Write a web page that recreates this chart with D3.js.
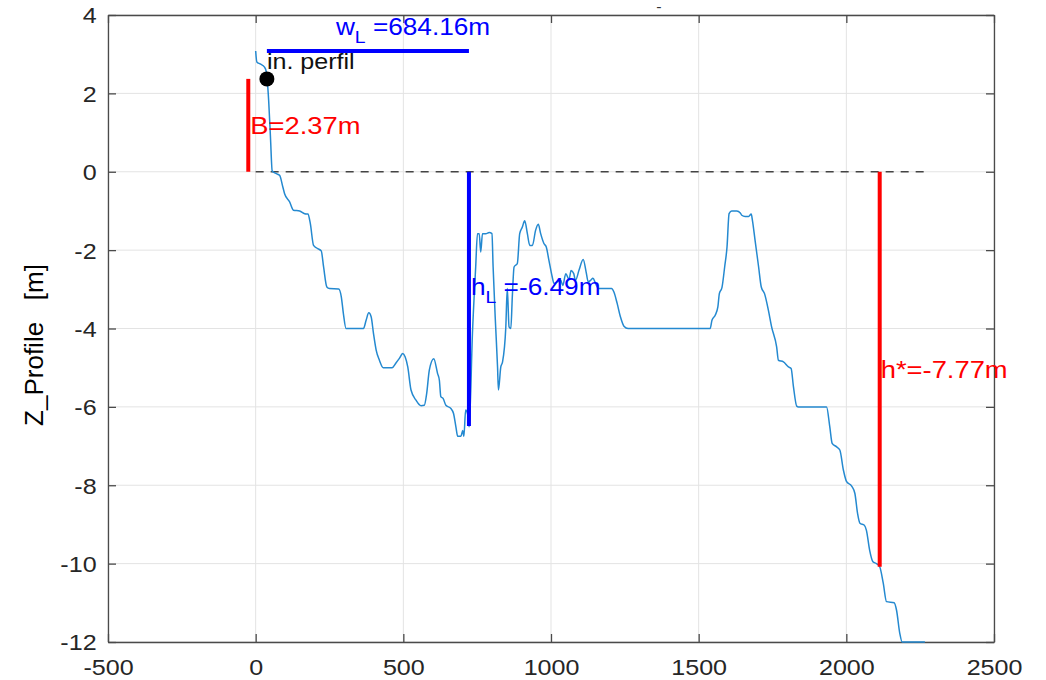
<!DOCTYPE html>
<html>
<head>
<meta charset="utf-8">
<script src="https://cdn.jsdelivr.net/npm/d3@7"></script>
<style>
  body { margin: 0; background: #fff; }
  text { font-family: "Liberation Sans", Arial, Helvetica, sans-serif; }
</style>
</head>
<body>
<div id="container"></div>
<script>
/* CONSTANTS AND GLOBALS */
const width = 1046,
  height = 680,
  margin = { top: 15, right: 52, bottom: 38, left: 108 };

const textStretch = 1.14; // the reference picture is a bit wider than tall

// axis ticks
const xTicks = [-500, 0, 500, 1000, 1500, 2000, 2500];
const yTicks = [-12, -10, -8, -6, -4, -2, 0, 2, 4];

// bed profile: distance along profile [m] and elevation [m]
const profileX = [0, 4, 15, 30, 36, 44, 50, 56, 70, 81, 92, 98, 115, 128, 149, 166, 177, 185, 196, 210,
  222, 230, 241, 250, 281, 290, 297, 306, 365, 374, 383, 391, 399, 408, 419, 432, 462, 475, 486, 498,
  506, 515, 526, 543, 560, 571, 579, 588, 603, 616, 622, 627, 635, 644, 661, 670, 678, 684, 695, 701,
  705, 711, 718, 723, 734, 745, 751, 757, 762, 768, 779, 791, 800, 804, 811, 819, 822, 830, 836, 847,
  852, 858, 864, 869, 875, 886, 894, 903, 911, 920, 928, 937, 948, 957, 965, 976, 984, 993, 1004, 1010,
  1021, 1033, 1040, 1050, 1061, 1068, 1077, 1083, 1095, 1109, 1119, 1126, 1134, 1142, 1151, 1160, 1205, 1213, 1224, 1235,
  1247, 1261, 1539, 1545, 1556, 1565, 1570, 1579, 1588, 1596, 1603, 1612, 1629, 1641, 1646, 1657, 1669, 1678, 1682, 1691,
  1703, 1712, 1723, 1736, 1747, 1764, 1770, 1787, 1804, 1813, 1821, 1832, 1838, 1933, 1944, 1952, 1967, 1978, 1990, 2001,
  2018, 2029, 2038, 2046, 2061, 2068, 2079, 2090, 2102, 2113, 2125, 2136, 2162, 2170, 2181, 2189, 2266];
const profileZ = [3.08, 2.8, 2.75, 2.67, 2.55, 1.82, 0.9, 0.02, -0.05, -0.09, -0.39, -0.56, -0.77, -0.98, -1.0, -1.07, -1.08, -1.32, -1.88, -1.96,
  -2.02, -2.43, -2.94, -2.98, -2.99, -3.19, -3.62, -4.0, -4.0, -3.79, -3.6, -3.7, -4.13, -4.55, -4.81, -5.0, -5.0, -4.88, -4.77, -4.64,
  -4.72, -4.98, -5.57, -5.83, -5.97, -5.96, -5.66, -5.06, -4.77, -5.15, -5.32, -5.74, -5.79, -5.96, -6.04, -6.17, -6.51, -6.75, -6.75, -6.6,
  -6.75, -6.08, -6.2, -6.51, -4.13, -2.43, -1.58, -1.58, -2.05, -1.58, -1.58, -1.55, -1.58, -2.43, -3.7, -4.98, -5.57, -4.98, -4.85, -3.96,
  -2.98, -3.96, -4.0, -3.19, -2.43, -2.34, -1.58, -1.41, -1.25, -1.58, -1.88, -1.88, -1.49, -1.34, -1.58, -1.83, -1.92, -2.26, -2.68, -2.85,
  -2.81, -2.77, -2.9, -2.6, -2.75, -2.52, -2.6, -2.77, -2.51, -2.24, -2.56, -2.81, -2.77, -2.72, -2.85, -2.98, -2.98, -3.07, -3.36, -3.7,
  -3.94, -4.0, -4.0, -3.79, -3.66, -3.45, -3.11, -2.95, -2.43, -1.92, -1.07, -1.0, -1.0, -1.05, -1.11, -1.14, -1.14, -1.08, -1.24, -1.75,
  -2.43, -2.94, -3.11, -3.53, -3.96, -4.47, -4.81, -4.85, -4.98, -5.02, -5.49, -5.98, -6.0, -6.0, -6.51, -6.93, -7.02, -7.1, -7.61, -7.91,
  -8.02, -8.21, -8.72, -8.97, -9.02, -9.15, -9.66, -9.95, -10.0, -10.08, -10.5, -10.97, -11.0, -11.19, -11.78, -12.0, -12.0];

// annotation values
const seaLevel = [0, 2270];   // dashed z = 0 line, from/to distance
const profileStart = 38;      // "in. perfil" point
const crestX = -25;           // where B is drawn
const B = 2.37;               // berm height
const wL = 684.16;            // width of the lagoon
const wLineZ = 3.08;          // height the width bar is drawn at
const hL = -6.49;             // lagoon depth
const hStarX = 2113;          // closure depth position
const hStarLineEnd = -10.08;  // bottom of the closure depth bar
const hStar = -7.77;

const blue = "#0000ff", red = "#ff0000", profileColor = "#2489d0";

const data = profileX.map((x, i) => ({ x: x, z: profileZ[i] }));

/* SCALES */
const xScale = d3.scaleLinear()
  .domain([-500, 2500])
  .range([margin.left, width - margin.right]);

const yScale = d3.scaleLinear()
  .domain([-12, 4])
  .range([height - margin.bottom, margin.top]);

const svg = d3.select("#container")
  .append("svg")
  .attr("width", width)
  .attr("height", height);

// helper: text squeezed out horizontally like the reference
function addText(x, y, anchor, size, color) {
  return svg.append("text")
    .attr("transform", `translate(${x},${y}) scale(${textStretch},1)`)
    .attr("text-anchor", anchor)
    .attr("font-size", size)
    .attr("fill", color);
}

/* GRID */
svg.append("g").selectAll("line")
  .data(xTicks)
  .join("line")
  .attr("x1", d => xScale(d)).attr("x2", d => xScale(d))
  .attr("y1", yScale(-12)).attr("y2", yScale(4))
  .attr("stroke", "#e3e3e3").attr("stroke-width", 1);

svg.append("g").selectAll("line")
  .data(yTicks)
  .join("line")
  .attr("x1", xScale(-500)).attr("x2", xScale(2500))
  .attr("y1", d => yScale(d)).attr("y2", d => yScale(d))
  .attr("stroke", "#e3e3e3").attr("stroke-width", 1);

/* AXES (box with inward ticks) */
const axisColor = "#4a4a4a";

const xAxisGroup = svg.append("g")
  .attr("transform", `translate(0, ${yScale(-12)})`)
  .call(d3.axisBottom(xScale).tickValues(xTicks).tickSize(-8).tickSizeOuter(0)
    .tickPadding(17).tickFormat(d => String(d)));

const yAxisGroup = svg.append("g")
  .attr("transform", `translate(${xScale(-500)}, 0)`)
  .call(d3.axisLeft(yScale).tickValues(yTicks).tickSize(-8).tickSizeOuter(0)
    .tickPadding(10).tickFormat(d => String(d)));

svg.append("g")
  .attr("transform", `translate(0, ${yScale(4)})`)
  .call(d3.axisTop(xScale).tickValues(xTicks).tickSize(-8).tickSizeOuter(0).tickFormat(""));

svg.append("g")
  .attr("transform", `translate(${xScale(2500)}, 0)`)
  .call(d3.axisRight(yScale).tickValues(yTicks).tickSize(-8).tickSizeOuter(0).tickFormat(""));

svg.selectAll(".domain, .tick line")
  .attr("stroke", axisColor)
  .attr("stroke-width", 1.3);

[xAxisGroup, yAxisGroup].forEach(g => {
  g.selectAll("text")
    .attr("font-size", 22)
    .attr("fill", "#262626")
    .attr("font-family", "'Liberation Sans', Arial, sans-serif");
});
xAxisGroup.selectAll("text").attr("transform", `scale(${textStretch},1)`);
yAxisGroup.selectAll("text").attr("transform", `scale(${textStretch},1)`).attr("dy", "0.36em");

// y axis label
svg.append("text")
  .attr("transform", `translate(43, 345) rotate(-90)`)
  .attr("text-anchor", "middle")
  .attr("font-size", 26)
  .attr("fill", "#000")
  .attr("xml:space", "preserve")
  .style("white-space", "pre")
  .text("Z_Profile   [m]");

// cut-off title
addText(659, 12, "middle", 14, "#333").text("-");

/* DASHED ZERO LINE */
svg.append("line")
  .attr("x1", xScale(seaLevel[0])).attr("x2", xScale(seaLevel[1]))
  .attr("y1", yScale(0)).attr("y2", yScale(0))
  .attr("stroke", "#444").attr("stroke-width", 1.5)
  .attr("stroke-dasharray", "8,7");

/* PROFILE */
const lineGen = d3.line()
  .x(d => xScale(d.x))
  .y(d => yScale(d.z))
  .curve(d3.curveMonotoneX);

svg.append("path")
  .datum(data)
  .attr("fill", "none")
  .attr("stroke", profileColor)
  .attr("stroke-width", 1.5)
  .attr("d", lineGen);

/* ANNOTATION BARS */
const wEnd = profileStart + wL;

svg.append("line") // B
  .attr("x1", xScale(crestX)).attr("x2", xScale(crestX))
  .attr("y1", yScale(0)).attr("y2", yScale(B))
  .attr("stroke", red).attr("stroke-width", 4);

svg.append("line") // w_L
  .attr("x1", xScale(profileStart)).attr("x2", xScale(wEnd))
  .attr("y1", yScale(wLineZ)).attr("y2", yScale(wLineZ))
  .attr("stroke", blue).attr("stroke-width", 4);

svg.append("line") // h_L
  .attr("x1", xScale(wEnd)).attr("x2", xScale(wEnd))
  .attr("y1", yScale(0)).attr("y2", yScale(hL))
  .attr("stroke", blue).attr("stroke-width", 4);

svg.append("line") // h*
  .attr("x1", xScale(hStarX)).attr("x2", xScale(hStarX))
  .attr("y1", yScale(0)).attr("y2", yScale(hStarLineEnd))
  .attr("stroke", red).attr("stroke-width", 4);

svg.append("circle")
  .attr("cx", xScale(profileStart))
  .attr("cy", yScale(B))
  .attr("r", 7.5)
  .attr("fill", "#000");

/* ANNOTATION TEXT */
addText(xScale(crestX) + 2, yScale(B / 2) + 9, "start", 24, red)
  .text(`B=${B.toFixed(2)}m`);

addText(xScale(profileStart), yScale(B) - 10, "start", 22, "#111")
  .text("in. perfil");

const wText = addText(xScale(profileStart) + 69, yScale(wLineZ) - 16, "start", 23, blue);
wText.append("tspan").text("w");
wText.append("tspan").attr("dy", 8).attr("font-size", 17).text("L");
wText.append("tspan").attr("dy", -8).attr("xml:space", "preserve").text(` =${wL.toFixed(2)}m`);

const hText = addText(xScale(wEnd) + 2, yScale(hL / 2) - 4, "start", 23, blue);
hText.append("tspan").text("h");
hText.append("tspan").attr("dy", 8).attr("font-size", 17).text("L");
hText.append("tspan").attr("dy", -8).attr("xml:space", "preserve").text(` =${hL.toFixed(2)}m`);

addText(xScale(hStarX) + 1, yScale(hStarLineEnd / 2) + 9, "start", 24, red)
  .text(`h*=${hStar.toFixed(2)}m`);
</script>
</body>
</html>
